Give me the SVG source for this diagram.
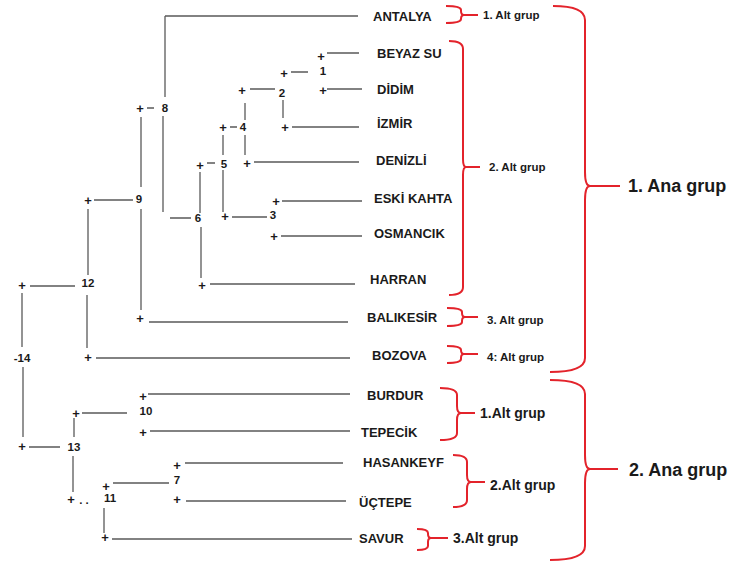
<svg xmlns="http://www.w3.org/2000/svg" width="729" height="563" viewBox="0 0 729 563">
<style>
.ln{stroke:#5a5a5a;stroke-width:1.3;fill:none}
.br{stroke:#e3232b;stroke-width:2;fill:none;stroke-linejoin:round}
.pl{font-family:"Liberation Sans",Arial,sans-serif;font-weight:bold;font-size:13px;fill:#1a1a1a;text-anchor:middle}
.num{font-family:"Liberation Sans",Arial,sans-serif;font-weight:bold;font-size:11.5px;fill:#1a1a1a;text-anchor:middle}
.leaf{font-family:"Liberation Sans",Arial,sans-serif;font-weight:bold;font-size:13px;fill:#1a1a1a}
.sub{font-family:"Liberation Sans",Arial,sans-serif;font-weight:bold;font-size:11.5px;fill:#1a1a1a}
.sub2{font-family:"Liberation Sans",Arial,sans-serif;font-weight:bold;font-size:14px;fill:#1a1a1a}
.ana{font-family:"Liberation Sans",Arial,sans-serif;font-weight:bold;font-size:18px;fill:#1a1a1a}
</style>
<rect width="729" height="563" fill="#ffffff"/>
<g id="connectors">
<path class="ln" d="M165,16H358 M165,16V97 M163,116V212 M170,218H191"/>
<path class="ln" d="M147,108H154 M141,117V187 M141,209V310 M149,322H348"/>
<path class="ln" d="M94,200H133 M88,209V275 M87,295V348 M96,358H350"/>
<path class="ln" d="M30,286H75 M22,293V347 M23,367V437 M29,447H60"/>
<path class="ln" d="M74,418V437 M82,413H127 M148,394H350 M150,431H350"/>
<path class="ln" d="M73,456V492 M113,483H169 M185,463H343 M186,501H346 M104,508V533 M112,539H352"/>
<path class="ln" d="M200,172V213 M207,163H215 M201,227V278 M210,284H355"/>
<path class="ln" d="M223,135V155 M230,127H237 M223,170V212 M232,217H267 M282,201H362 M281,236H362"/>
<path class="ln" d="M245,103V120 M250,89H275 M245,135V155 M254,162H359 M283,100V118 M292,127H359"/>
<path class="ln" d="M291,72H308 M327,53H359 M327,89H362"/>
</g>
<g id="marks">
<text class="pl" x="140" y="112.5">+</text>
<text class="pl" x="140" y="322.5">+</text>
<text class="pl" x="88" y="204.5">+</text>
<text class="pl" x="88" y="361.5">+</text>
<text class="pl" x="22" y="289.5">+</text>
<text class="pl" x="22" y="450.5">+</text>
<text class="pl" x="76" y="417.5">+</text>
<text class="pl" x="143" y="400.5">+</text>
<text class="pl" x="143" y="436.5">+</text>
<text class="pl" x="71" y="503.5">+</text>
<text class="num" x="84" y="504">. .</text>
<text class="pl" x="106" y="490.5">+</text>
<text class="pl" x="177" y="469.5">+</text>
<text class="pl" x="177" y="503.5">+</text>
<text class="pl" x="105" y="541.5">+</text>
<text class="pl" x="200" y="169.5">+</text>
<text class="pl" x="202" y="289.5">+</text>
<text class="pl" x="223" y="131.5">+</text>
<text class="pl" x="225" y="220.5">+</text>
<text class="pl" x="276" y="205.5">+</text>
<text class="pl" x="274" y="240.5">+</text>
<text class="pl" x="242" y="94.5">+</text>
<text class="pl" x="247" y="167.5">+</text>
<text class="pl" x="285" y="131.5">+</text>
<text class="pl" x="284" y="77.5">+</text>
<text class="pl" x="321" y="60.5">+</text>
<text class="pl" x="323" y="94.5">+</text>
</g>
<g id="n1"><text class="num" x="323" y="75">1</text></g>
<g id="n2"><text class="num" x="282" y="97">2</text></g>
<g id="n3"><text class="num" x="273" y="219">3</text></g>
<g id="n4"><text class="num" x="243" y="131">4</text></g>
<g id="n5"><text class="num" x="224" y="168">5</text></g>
<g id="n6"><text class="num" x="198" y="222">6</text></g>
<g id="n7"><text class="num" x="177" y="484">7</text></g>
<g id="n8"><text class="num" x="165" y="112">8</text></g>
<g id="n9"><text class="num" x="139" y="203">9</text></g>
<g id="n10"><text class="num" x="146" y="415">10</text></g>
<g id="n11"><text class="num" x="110" y="502">11</text></g>
<g id="n12"><text class="num" x="88" y="287">12</text></g>
<g id="n13"><text class="num" x="74" y="451">13</text></g>
<g id="n14"><text class="num" x="22" y="362">-14</text></g>
<g id="leaf-antalya"><text class="leaf" x="373" y="20.5">ANTALYA</text></g>
<g id="leaf-beyazsu"><text class="leaf" x="377" y="57.5">BEYAZ SU</text></g>
<g id="leaf-didim"><text class="leaf" x="377" y="93.5">DİDİM</text></g>
<g id="leaf-izmir"><text class="leaf" x="377" y="127.5">İZMİR</text></g>
<g id="leaf-denizli"><text class="leaf" x="376" y="164.5">DENİZLİ</text></g>
<g id="leaf-eskikahta"><text class="leaf" x="374" y="202.5">ESKİ KAHTA</text></g>
<g id="leaf-osmancik"><text class="leaf" x="374" y="237.5">OSMANCIK</text></g>
<g id="leaf-harran"><text class="leaf" x="370" y="283.5">HARRAN</text></g>
<g id="leaf-balikesir"><text class="leaf" x="367" y="321.5">BALIKESİR</text></g>
<g id="leaf-bozova"><text class="leaf" x="372" y="359.5">BOZOVA</text></g>
<g id="leaf-burdur"><text class="leaf" x="367" y="399.5">BURDUR</text></g>
<g id="leaf-tepecik"><text class="leaf" x="361" y="436.5">TEPECİK</text></g>
<g id="leaf-hasankeyf"><text class="leaf" x="363" y="466.5">HASANKEYF</text></g>
<g id="leaf-uctepe"><text class="leaf" x="359" y="506.5">ÜÇTEPE</text></g>
<g id="leaf-savur"><text class="leaf" x="359" y="542.5">SAVUR</text></g>
<g id="brace-alt1">
<path class="br" d="M446,6 Q461,6 461,10 V11 Q461,15 464,15 Q461,15 461,19 V19 Q461,23 446,23 M464,15 H478"/>
<text class="sub" x="483" y="19">1. Alt grup</text>
</g>
<g id="brace-alt2">
<path class="br" d="M449,41 Q463,41 463,49 V159 Q463,167 466,167 Q463,167 463,175 V287 Q463,295 449,295 M466,167 H480"/>
<text class="sub" x="489" y="171">2. Alt grup</text>
</g>
<g id="brace-alt3">
<path class="br" d="M447,308 Q462,308 462,312 V313 Q462,317 465,317 Q462,317 462,321 V322 Q462,326 447,326 M465,317 H478"/>
<text class="sub" x="487" y="324">3. Alt grup</text>
</g>
<g id="brace-alt4">
<path class="br" d="M447,346 Q461,346 461,350 V350 Q461,354 464,354 Q461,354 461,358 V359 Q461,363 447,363 M464,354 H478"/>
<text class="sub" x="487" y="361">4: Alt grup</text>
</g>
<g id="brace-ana1">
<path class="br" d="M553,6 Q585,6 585,20 V172 Q585,186 590,186 Q585,186 585,200 V358 Q585,372 550,372 M590,186 H620"/>
<text class="ana" x="628" y="192">1. Ana grup</text>
</g>
<g id="brace-ana2">
<path class="br" d="M550,380 Q585,380 585,394 V455 Q585,469 590,469 Q585,469 585,483 V546 Q585,560 550,560 M590,469 H618"/>
<text class="ana" x="629" y="476">2. Ana grup</text>
</g>
<g id="brace-lower-alt1">
<path class="br" d="M440,388 Q457,388 457,395 V406 Q457,413 461,413 Q457,413 457,420 V433 Q457,440 440,440 M461,413 H475"/>
<text class="sub2" x="480" y="418">1.Alt grup</text>
</g>
<g id="brace-lower-alt2">
<path class="br" d="M453,455 Q467,455 467,462 V475 Q467,482 471,482 Q467,482 467,489 V500 Q467,507 453,507 M471,482 H485"/>
<text class="sub2" x="490" y="490">2.Alt grup</text>
</g>
<g id="brace-lower-alt3">
<path class="br" d="M417,529 Q428,529 428,533 V534 Q428,538 431,538 Q428,538 428,542 V546 Q428,550 417,550 M431,538 H448"/>
<text class="sub2" x="453" y="543">3.Alt grup</text>
</g>
</svg>
